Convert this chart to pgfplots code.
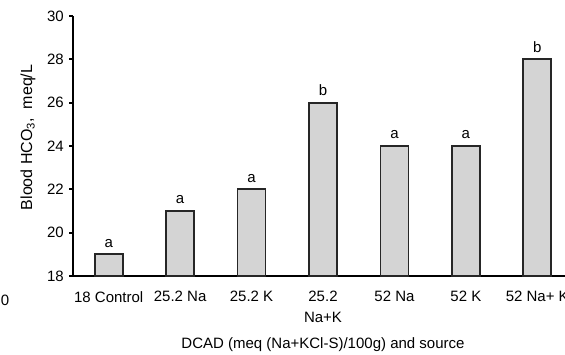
\documentclass[border=0pt]{standalone}
\usepackage{pgfplots}
\pgfplotsset{compat=1.18}
\usepackage{fontspec}
\setmainfont{Liberation Sans}
\pgfplotstableread{
x y lab
0 19 a
1 21 a
2 22 a
3 26 b
4 24 a
5 24 a
6 28 b
}\bardata
\begin{document}
\fontsize{15}{17}\selectfont
\begin{tikzpicture}[x=1pt,y=1pt]
\useasboundingbox (0,0) rectangle (565,354);
\clip (0,0) rectangle (565,354);
\node[font=\fontsize{15}{17}\selectfont] at (5,54) {0};
\begin{axis}[
  at={(73pt,78pt)}, anchor=south west,
  scale only axis, width=500pt, height=260pt,
  xmin=-0.5, xmax=6.5, ymin=18, ymax=30,
  axis x line=bottom, axis y line=left,
  axis line style={line width=2pt,-},
  tick align=outside,
  ytick={18,20,...,30},
  major tick length=4pt,
  xtick={0,...,6},
  xticklabels={18 Control, 25.2 Na, 25.2 K, {25.2\\Na+K}, 52 Na, 52 K, 52 Na+ K},
  x tick style={draw=none},
  minor xtick={-0.5,0.5,...,6.5},
  minor tick length=4pt,
  minor x tick style={line width=2pt, black},
  y tick style={line width=2pt, black},
  xticklabel style={align=center, font=\fontsize{15}{21}\selectfont, yshift=-6pt},
  yticklabel style={font=\fontsize{15}{17}\selectfont},
  /pgf/number format/assume math mode=true,
  xlabel={DCAD (meq (Na+KCl-S)/100g) and source},
  every axis x label/.style={at={(axis description cs:0.5,-0.265)}, anchor=center, font=\fontsize{15}{17}\selectfont},
  ylabel={Blood HCO\textsubscript{3},\ \ meq/L},
  every axis y label/.style={at={(axis description cs:-0.09,0.533)}, rotate=90, anchor=center, font=\fontsize{16}{18}\selectfont},
  nodes near coords={\pgfplotspointmeta},
  point meta=explicit symbolic,
  every node near coord/.append style={font=\fontsize{15}{17}\selectfont, yshift=1pt},
]
\addplot[ybar, bar width=28pt, bar shift=0pt, fill=black!17, draw=black!85, line width=1.8pt]
  table[x=x, y=y, meta=lab] {\bardata};
\end{axis}
\end{tikzpicture}
\end{document}
